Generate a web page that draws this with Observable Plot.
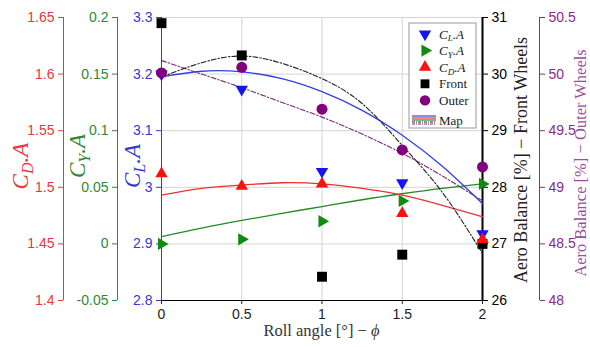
<!DOCTYPE html>
<html><head><meta charset="utf-8">
<script src="https://cdn.jsdelivr.net/npm/d3@7"></script>
<script src="https://cdn.jsdelivr.net/npm/@observablehq/plot@0.6"></script>
<style>body{margin:0;background:#fff}</style>
</head><body><div id="chart"></div>
<script>
// ---- data ----
const roll = [0, 0.5, 1, 1.5, 2];
const clA = [3.2, 3.173, 3.028, 3.008, 2.918];
const cyA = [0.0, 0.004, 0.02, 0.038, 0.053];
const cdA = [1.512, 1.501, 1.503, 1.477, 1.454];
const front = [30.9, 30.33, 26.42, 26.81, 27.0];
const outer = [50.01, 50.06, 49.69, 49.33, 49.18];

const rollFit = [0, 0.25, 0.5, 0.75, 1, 1.25, 1.5, 1.75, 2];
const clFit = [3.195, 3.205, 3.204, 3.192, 3.169, 3.136, 3.092, 3.037, 2.971];
const cyFit = [0.0065, 0.014, 0.0207, 0.027, 0.033, 0.039, 0.0443, 0.049, 0.053];
const cdFit = [1.493, 1.499, 1.502, 1.504, 1.503, 1.499, 1.493, 1.484, 1.474];
const frontFit = [29.95, 30.20, 30.32, 30.19, 29.92, 29.48, 28.74, 27.91, 26.83];
const outerFit = [50.12, 50.00, 49.88, 49.75, 49.62, 49.47, 49.30, 49.10, 48.88];

const rollTicks = [0, 0.5, 1, 1.5, 2];
const clTicks = [2.8, 2.9, 3, 3.1, 3.2, 3.3];
const cyTicks = [-0.05, 0, 0.05, 0.1, 0.15, 0.2];
const cdTicks = [1.4, 1.45, 1.5, 1.55, 1.6, 1.65];
const frontTicks = [26, 27, 28, 29, 30, 31];
const outerTicks = [48, 48.5, 49, 49.5, 50, 50.5];

const xLabel = "Roll angle [°] − ";
const xSymbol = "ϕ";
const frontLabel = "Aero Balance [%] − Front Wheels";
const outerLabel = "Aero Balance [%] − Outer Wheels";

// ---- styling ----
const C = {
  cd: "#ff1010", cy: "#108a10", cl: "#1515f0", front: "#000000", outer: "#800080",
  cdAxis: "#e6383d", cyAxis: "#2f8a2f", clAxis: "#3838d0", outerAxis: "#8a2a8a",
  cdLine: "#ee3030", cyLine: "#228b22", clLine: "#3340e6", frontLine: "#222", outerLine: "#7a2a7a"
};

// all series are mapped onto the C_L.A scale (the plot's y scale)
const lo = clTicks[0], hi = clTicks[clTicks.length - 1];
const toY = t => v => lo + (v - t[0]) / (t[t.length - 1] - t[0]) * (hi - lo);
const fromY = t => y => t[0] + (y - lo) / (hi - lo) * (t[t.length - 1] - t[0]);
const fmt = v => String(+v.toFixed(3));

function series(xs, ys, ticks) {
  const f = toY(ticks);
  return xs.map((x, i) => ({x, y: f(ys[i])}));
}
function sideAxis(ticks, color, anchor, dx, lineX, lineW) {
  const f = toY(ticks), g = fromY(ticks);
  return [
    Plot.ruleX([lineX], {y1: lo, y2: hi, stroke: color, strokeWidth: lineW, dx}),
    Plot.axisY(ticks.map(f), {anchor, dx, color, tickSize: 5, tickFormat: d => fmt(g(d)), label: null})
  ];
}

const plot = Plot.plot({
  width: 590, height: 347,
  marginLeft: 161, marginRight: 108, marginTop: 17, marginBottom: 47,
  x: {domain: [rollTicks[0], rollTicks[rollTicks.length - 1]]},
  y: {domain: [lo, hi]},
  style: {fontFamily: "'Liberation Sans', Arial, sans-serif", fontSize: "14px", background: "#fff", overflow: "visible"},
  marks: [
    Plot.gridX(rollTicks.slice(1, -1), {stroke: "#d4d4d4", strokeOpacity: 1}),
    Plot.gridY(clTicks.slice(1), {stroke: "#d4d4d4", strokeOpacity: 1}),
    Plot.ruleY([lo], {stroke: "#000"}),
    Plot.axisX(rollTicks, {tickFormat: fmt, tickSize: 4, label: null, color: "#222"}),
    ...sideAxis(cdTicks, C.cdAxis, "left", -98, rollTicks[0], 1),
    ...sideAxis(cyTicks, C.cyAxis, "left", -44, rollTicks[0], 1),
    ...sideAxis(clTicks, C.clAxis, "left", 0, rollTicks[0], 1),
    ...sideAxis(outerTicks, C.outerAxis, "right", 57, rollTicks[4], 1),
    ...sideAxis(frontTicks, "#000", "right", 0, rollTicks[4], 2),
    // fitted "Map" curves
    Plot.line(series(rollFit, cyFit, cyTicks), {x: "x", y: "y", stroke: C.cyLine, strokeWidth: 1.3, curve: "natural"}),
    Plot.line(series(rollFit, cdFit, cdTicks), {x: "x", y: "y", stroke: C.cdLine, strokeWidth: 1.3, curve: "natural"}),
    Plot.line(series(rollFit, clFit, clTicks), {x: "x", y: "y", stroke: C.clLine, strokeWidth: 1.3, curve: "natural"}),
    Plot.line(series(rollFit, outerFit, outerTicks), {x: "x", y: "y", stroke: C.outerLine, strokeWidth: 1.1, strokeDasharray: "5,2,1.5,2", curve: "natural"}),
    Plot.line(series(rollFit, frontFit, frontTicks), {x: "x", y: "y", stroke: C.frontLine, strokeWidth: 1.1, strokeDasharray: "5,2,1.5,2", curve: "natural"}),
    // measured points
    Plot.dot(series(roll, front, frontTicks), {x: "x", y: "y", symbol: "square", r: 5.6, fill: C.front}),
    Plot.dot(series(roll, clA, clTicks), {x: "x", y: "y", symbol: "triangle", rotate: 180, r: 4.6, fill: C.cl}),
    Plot.dot(series(roll, cyA, cyTicks), {x: "x", y: "y", symbol: "triangle", rotate: 90, r: 4.6, fill: C.cy}),
    Plot.dot(series(roll, cdA, cdTicks), {x: "x", y: "y", symbol: "triangle", r: 4.6, fill: C.cd}),
    Plot.dot(series(roll, outer, outerTicks), {x: "x", y: "y", symbol: "circle", r: 5.5, fill: C.outer})
  ]
});

const svg = d3.select(plot);
const serif = "'Liberation Serif', 'Times New Roman', serif";

function mathLabel(g, x, y, color, sub, size, rotate) {
  const t = g.append("text")
    .attr("transform", `translate(${x},${y})` + (rotate ? " rotate(-90)" : ""))
    .attr("text-anchor", rotate ? "middle" : "start")
    .attr("fill", color)
    .style("font-family", serif).style("font-size", size + "px").style("font-style", "italic");
  t.append("tspan").text("C");
  t.append("tspan").style("font-size", (size * 0.7) + "px").attr("dy", size * 0.22).text(sub);
  t.append("tspan").attr("dy", -size * 0.22).text(".A");
  return t;
}
mathLabel(svg, 28, 166, C.cdAxis, "D", 23, true);
mathLabel(svg, 85, 156, C.cyAxis, "Y", 23, true);
mathLabel(svg, 140, 166, C.clAxis, "L", 23, true);

function plainRot(x, y, color, txt, size) {
  svg.append("text").attr("transform", `translate(${x},${y}) rotate(-90)`)
    .attr("text-anchor", "middle").attr("fill", color)
    .style("font-family", serif).style("font-size", size + "px").text(txt);
}
plainRot(527, 160, "#222", frontLabel, 18);
plainRot(586, 163, "#9a4f9a", outerLabel, 16.5);

const xl = svg.append("text").attr("x", 321.5).attr("y", 336).attr("text-anchor", "middle")
  .attr("fill", "#333").style("font-family", serif).style("font-size", "16.5px");
xl.append("tspan").text(xLabel);
xl.append("tspan").style("font-style", "italic").text(xSymbol);

// legend
const lg = svg.append("g");
lg.append("rect").attr("x", 409).attr("y", 23).attr("width", 67).attr("height", 105)
  .attr("fill", "#fff").attr("fill-opacity", 0.85).attr("stroke", "#999").attr("stroke-width", 1);
const sz = r => Math.PI * r * r;
const items = [
  {sym: d3.symbolTriangle, rot: 180, r: 4.6, fill: C.cl, sub: "L"},
  {sym: d3.symbolTriangle, rot: 90, r: 4.6, fill: C.cy, sub: "Y"},
  {sym: d3.symbolTriangle, rot: 0, r: 4.6, fill: C.cd, sub: "D"},
  {sym: d3.symbolSquare, rot: 0, r: 5.0, fill: C.front, txt: "Front"},
  {sym: d3.symbolCircle, rot: 0, r: 5.2, fill: C.outer, txt: "Outer"}
];
items.forEach((it, i) => {
  const cy = 34 + i * 16.6;
  lg.append("path").attr("d", d3.symbol().type(it.sym).size(sz(it.r))())
    .attr("transform", `translate(425,${cy}) rotate(${it.rot})`).attr("fill", it.fill);
  if (it.sub) mathLabel(lg, 439, cy + 4.5, "#222", it.sub, 13, false);
  else lg.append("text").attr("x", 439).attr("y", cy + 4.5).attr("fill", "#222").attr("text-anchor", "start")
    .style("font-family", serif).style("font-size", "13px").text(it.txt);
});
const mapLines = [
  {c: C.clLine, d: null}, {c: C.cdLine, d: null}, {c: C.cyLine, d: null},
  {c: C.frontLine, d: "3,1,1,1"}, {c: C.outerLine, d: "3,1,1,1"}
];
mapLines.forEach((m, i) => {
  lg.append("line").attr("x1", 412).attr("x2", 436).attr("y1", 116 + i * 2).attr("y2", 116 + i * 2)
    .attr("stroke", m.c).attr("stroke-width", 1.2).attr("stroke-dasharray", m.d);
});
lg.append("text").attr("x", 439).attr("y", 125).attr("fill", "#222").attr("text-anchor", "start")
  .style("font-family", serif).style("font-size", "13px").text("Map");

document.getElementById("chart").appendChild(plot);
</script>
</body></html>
